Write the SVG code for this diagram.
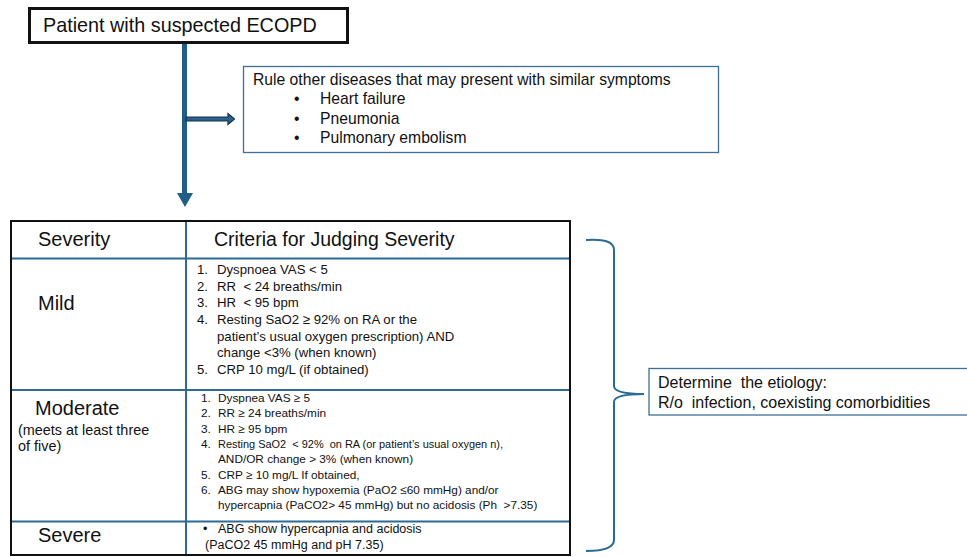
<svg xmlns="http://www.w3.org/2000/svg" width="967" height="557" viewBox="0 0 967 557">
<defs>
<style>
text{font-family:"Liberation Sans",Arial,sans-serif;fill:#111;white-space:pre;}
.title{font-size:19.8px;}
.big{font-size:20px;}
.hdr{font-size:19.5px;}
.mid{font-size:15.7px;}
.sm{font-size:13.2px;}
.note{font-size:14.4px;}
.xs{font-size:11.8px;}
.sv{font-size:12.5px;}
.et{font-size:16px;}
.bluebox{fill:#fff;stroke:#3f6f96;stroke-width:1.3;}
.div{stroke:#2e6a92;stroke-width:2;}
</style>
</defs>
<rect width="967" height="557" fill="#fff"/>

<g id="connectors">
  <line x1="184.5" y1="43" x2="184.5" y2="194" stroke="#1f5f86" stroke-width="5"/>
  <polygon points="177,193 193,193 185,207" fill="#1f5f86"/>
  <polygon points="186,117 228,117 228,113.5 234.5,119 228,124.5 228,121 186,121" fill="#2a6389" stroke="#17324d" stroke-width="1.2"/>
  <path d="M586,240 Q614,238 614,250 L614,386 Q614,394 644,394 Q614,394 614,402 L614,540 Q614,551 586,551" fill="none" stroke="#2a6a96" stroke-width="2"/>
</g>

<g id="start">
  <rect x="29.5" y="8.5" width="318" height="34" fill="#fff" stroke="#111" stroke-width="3"/>
  <text x="43" y="32" class="title">Patient with suspected ECOPD</text>
</g>

<g id="rule-out">
  <rect x="243.5" y="66.5" width="475" height="86" class="bluebox"/>
  <text x="253" y="85" class="mid">Rule other diseases that may present with similar symptoms</text>
  <text x="294" y="104" class="mid">•</text><text x="320" y="104" class="mid">Heart failure</text>
  <text x="294" y="124" class="mid">•</text><text x="320" y="124" class="mid">Pneumonia</text>
  <text x="294" y="143" class="mid">•</text><text x="320" y="143" class="mid">Pulmonary embolism</text>
</g>

<g id="severity-table">
  <rect x="11" y="221" width="559" height="334" fill="#fff" stroke="#111" stroke-width="2"/>
  <line x1="186" y1="222" x2="186" y2="554" class="div"/>
  <line x1="12" y1="258.5" x2="569" y2="258.5" class="div"/>
  <line x1="12" y1="390" x2="569" y2="390" class="div"/>
  <line x1="12" y1="521.5" x2="569" y2="521.5" class="div"/>

  <text x="38" y="246" class="big">Severity</text>
  <text x="214" y="246" class="hdr">Criteria for Judging Severity</text>

  <text x="38" y="310" class="big">Mild</text>
  <g class="sm">
    <text x="197" y="274">1.</text><text x="217" y="274">Dyspnoea VAS &lt; 5</text>
    <text x="197" y="290.5">2.</text><text x="217" y="290.5">RR  &lt; 24 breaths/min</text>
    <text x="197" y="307">3.</text><text x="217" y="307">HR  &lt; 95 bpm</text>
    <text x="197" y="324">4.</text><text x="217" y="324">Resting SaO2 ≥ 92% on RA or the</text>
    <text x="217" y="340.5">patient’s usual oxygen prescription) AND</text>
    <text x="217" y="357">change &lt;3% (when known)</text>
    <text x="197" y="373.5">5.</text><text x="217" y="373.5">CRP 10 mg/L (if obtained)</text>
  </g>

  <text x="35" y="415" class="big">Moderate</text>
  <text x="18" y="435" class="note">(meets at least three</text>
  <text x="18" y="451" class="note">of five)</text>
  <g class="xs">
    <text x="201" y="402">1.</text><text x="218" y="402">Dyspnea VAS ≥ 5</text>
    <text x="201" y="417">2.</text><text x="218" y="417">RR ≥ 24 breaths/min</text>
    <text x="201" y="432.5">3.</text><text x="218" y="432.5">HR ≥ 95 bpm</text>
    <text x="201" y="448">4.</text><text x="218" y="448" textLength="285" lengthAdjust="spacingAndGlyphs">Resting SaO2  &lt; 92%  on RA (or patient’s usual oxygen n),</text>
    <text x="218" y="463">AND/OR change &gt; 3% (when known)</text>
    <text x="201" y="479">5.</text><text x="218" y="479">CRP ≥ 10 mg/L If obtained,</text>
    <text x="201" y="494">6.</text><text x="218" y="494">ABG may show hypoxemia (PaO2 ≤60 mmHg) and/or</text>
    <text x="218" y="509">hypercapnia (PaCO2&gt; 45 mmHg) but no acidosis (Ph  &gt;7.35)</text>
  </g>

  <text x="38" y="542" class="big">Severe</text>
  <g class="sv">
    <text x="203" y="533">•</text><text x="218" y="533">ABG show hypercapnia and acidosis</text>
    <text x="205" y="549">(PaCO2 45 mmHg and pH 7.35)</text>
  </g>
</g>

<g id="etiology">
  <rect x="649" y="368.5" width="330" height="46.5" class="bluebox"/>
  <text x="658" y="388" class="et">Determine  the etiology:</text>
  <text x="658" y="408" class="et">R/o  infection, coexisting comorbidities</text>
</g>
</svg>
